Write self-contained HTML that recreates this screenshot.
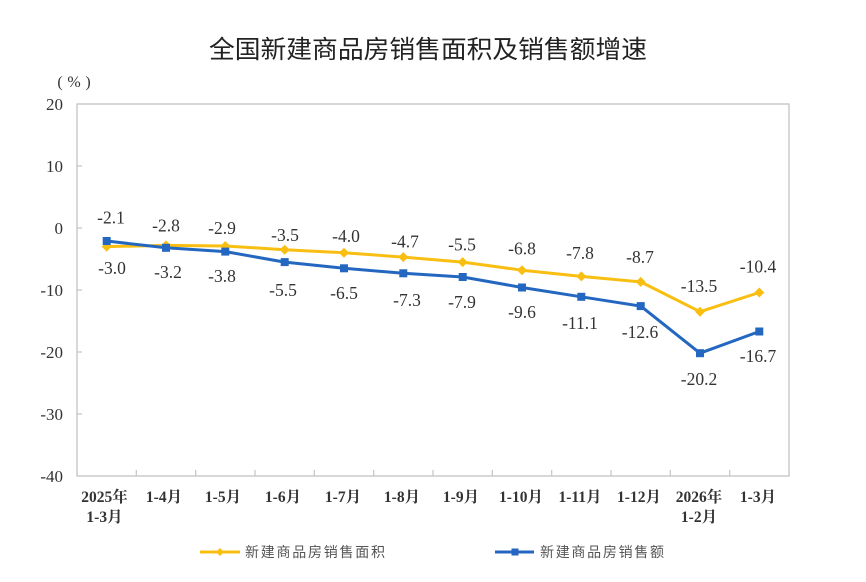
<!DOCTYPE html>
<html><head><meta charset="utf-8"><style>
html,body{margin:0;padding:0;background:#fff;}
svg{display:block;}
.t{font-family:"Liberation Serif","Noto Serif CJK SC",serif;fill:#333;font-size:17.5px;text-anchor:middle;}
.ax{font-family:"Liberation Serif","Noto Serif CJK SC",serif;fill:#333;font-size:17px;}
.xl{font-family:"Liberation Serif","Noto Serif CJK SC",serif;fill:#333;font-size:15.5px;}
</style></head><body>
<svg width="866" height="582" viewBox="0 0 866 582" xmlns="http://www.w3.org/2000/svg">
<rect width="866" height="582" fill="#fff"/>
<text x="428" y="58" text-anchor="middle" font-family="Liberation Sans,'Noto Sans CJK SC',sans-serif" font-size="25" fill="#222" textLength="438" lengthAdjust="spacingAndGlyphs">全国新建商品房销售面积及销售额增速</text>
<g font-family="'Liberation Serif',serif" font-size="16" fill="#333" text-anchor="middle">
<text x="60" y="87">(</text><text x="74" y="87">%</text><text x="88" y="87">)</text>
</g>
<!-- plot box -->
<rect x="77" y="104" width="712" height="372" fill="none" stroke="#c4c4c4" stroke-width="1.3"/>
<!-- ticks -->
<g stroke="#c4c4c4" stroke-width="1.2">
<line x1="77" y1="166" x2="82" y2="166"/><line x1="77" y1="228" x2="82" y2="228"/>
<line x1="77" y1="290" x2="82" y2="290"/><line x1="77" y1="352" x2="82" y2="352"/>
<line x1="77" y1="414" x2="82" y2="414"/>
<line x1="136.3" y1="470" x2="136.3" y2="476"/><line x1="195.7" y1="470" x2="195.7" y2="476"/>
<line x1="255" y1="470" x2="255" y2="476"/><line x1="314.3" y1="470" x2="314.3" y2="476"/>
<line x1="373.7" y1="470" x2="373.7" y2="476"/><line x1="433" y1="470" x2="433" y2="476"/>
<line x1="492.3" y1="470" x2="492.3" y2="476"/><line x1="551.7" y1="470" x2="551.7" y2="476"/>
<line x1="611" y1="470" x2="611" y2="476"/><line x1="670.3" y1="470" x2="670.3" y2="476"/>
<line x1="729.7" y1="470" x2="729.7" y2="476"/>
</g>
<g class="ax" text-anchor="end">
<text x="63" y="110">20</text><text x="63" y="172">10</text><text x="63" y="234">0</text>
<text x="63" y="296">-10</text><text x="63" y="358">-20</text><text x="63" y="420">-30</text><text x="63" y="482">-40</text>
</g>
<g class="xl" text-anchor="middle" font-weight="bold">
<text x="104.5" y="502">2025年</text><text x="104.5" y="522">1-3月</text>
<text x="164" y="502">1-4月</text><text x="223" y="502">1-5月</text>
<text x="283" y="502">1-6月</text><text x="343" y="502">1-7月</text>
<text x="402" y="502">1-8月</text><text x="461" y="502">1-9月</text>
<text x="521" y="502">1-10月</text><text x="580" y="502">1-11月</text>
<text x="639" y="502">1-12月</text>
<text x="699" y="502">2026年</text><text x="699" y="522">1-2月</text>
<text x="758" y="502">1-3月</text>
</g>
<!-- yellow series -->
<polyline fill="none" stroke="#F9BE12" stroke-width="3" stroke-linejoin="round"
points="106.7,246.6 166,245.4 225.3,246 284.7,249.7 344,252.8 403.3,257.1 462.7,262.1 522,270.2 581.3,276.4 640.7,281.9 700,311.7 759.3,292.5"/>
<g fill="#F9BE12">
<path d="M106.7 241.6l5 5-5 5-5-5z"/><path d="M166 240.4l5 5-5 5-5-5z"/>
<path d="M225.3 241l5 5-5 5-5-5z"/><path d="M284.7 244.7l5 5-5 5-5-5z"/>
<path d="M344 247.8l5 5-5 5-5-5z"/><path d="M403.3 252.1l5 5-5 5-5-5z"/>
<path d="M462.7 257.1l5 5-5 5-5-5z"/><path d="M522 265.2l5 5-5 5-5-5z"/>
<path d="M581.3 271.4l5 5-5 5-5-5z"/><path d="M640.7 276.9l5 5-5 5-5-5z"/>
<path d="M700 306.7l5 5-5 5-5-5z"/><path d="M759.3 287.5l5 5-5 5-5-5z"/>
</g>
<!-- blue series -->
<polyline fill="none" stroke="#2467C0" stroke-width="3" stroke-linejoin="round"
points="106.7,241 166,247.8 225.3,251.6 284.7,262.1 344,268.3 403.3,273.3 462.7,277 522,287.5 581.3,296.8 640.7,306.1 700,353.2 759.3,331.5"/>
<g fill="#2467C0">
<rect x="102.7" y="237" width="8" height="8"/><rect x="162" y="243.8" width="8" height="8"/>
<rect x="221.3" y="247.6" width="8" height="8"/><rect x="280.7" y="258.1" width="8" height="8"/>
<rect x="340" y="264.3" width="8" height="8"/><rect x="399.3" y="269.3" width="8" height="8"/>
<rect x="458.7" y="273" width="8" height="8"/><rect x="518" y="283.5" width="8" height="8"/>
<rect x="577.3" y="292.8" width="8" height="8"/><rect x="636.7" y="302.1" width="8" height="8"/>
<rect x="696" y="349.2" width="8" height="8"/><rect x="755.3" y="327.5" width="8" height="8"/>
</g>
<!-- yellow labels -->
<g class="t">
<text x="112" y="274">-3.0</text><text x="166" y="231.5">-2.8</text><text x="222" y="234">-2.9</text>
<text x="285" y="241">-3.5</text><text x="346" y="242">-4.0</text><text x="405" y="247.5">-4.7</text>
<text x="462" y="250.5">-5.5</text><text x="522" y="254.5">-6.8</text><text x="580" y="259">-7.8</text>
<text x="640" y="263">-8.7</text><text x="699" y="292">-13.5</text><text x="758" y="272.5">-10.4</text>
</g>
<!-- blue labels -->
<g class="t">
<text x="111" y="223.5">-2.1</text><text x="168" y="278">-3.2</text><text x="222" y="282">-3.8</text>
<text x="283" y="296">-5.5</text><text x="344" y="299">-6.5</text><text x="407" y="306">-7.3</text>
<text x="462" y="308">-7.9</text><text x="522" y="318">-9.6</text><text x="580" y="329">-11.1</text>
<text x="640" y="338">-12.6</text><text x="699" y="385">-20.2</text><text x="758" y="362">-16.7</text>
</g>
<!-- legend -->
<line x1="200" y1="552" x2="240" y2="552" stroke="#F9BE12" stroke-width="3"/>
<path d="M220 548l4 4-4 4-4-4z" fill="#F9BE12"/>
<text x="245" y="557" font-family="'Liberation Sans','Noto Sans CJK SC',sans-serif" font-size="14" fill="#555" textLength="140" lengthAdjust="spacing">新建商品房销售面积</text>
<line x1="495" y1="552" x2="534" y2="552" stroke="#2467C0" stroke-width="3"/>
<rect x="511.5" y="548.5" width="7" height="7" fill="#2467C0"/>
<text x="540" y="557" font-family="'Liberation Sans','Noto Sans CJK SC',sans-serif" font-size="14" fill="#555" textLength="124" lengthAdjust="spacing">新建商品房销售额</text>
</svg>
</body></html>
